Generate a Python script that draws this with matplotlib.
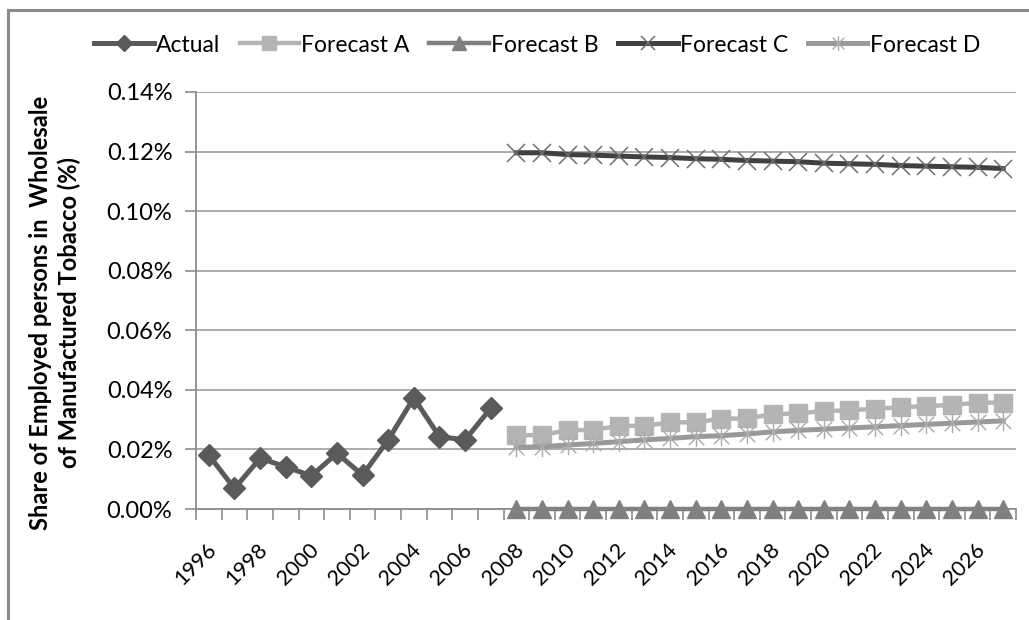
import matplotlib
matplotlib.use("Agg")
import matplotlib.pyplot as plt
from matplotlib.path import Path
from matplotlib.patches import Rectangle
from matplotlib.ticker import FixedLocator, FuncFormatter
import matplotlib.transforms as mtransforms

plt.rcParams['font.family'] = ['Lato', 'DejaVu Sans']

# ---- data (share of employed persons, in %) ----
actual_years = list(range(1996, 2008))
actual = [0.0181, 0.0069, 0.0170, 0.0142, 0.0111, 0.0187,
          0.0114, 0.0232, 0.0373, 0.0243, 0.0232, 0.0338]

forecast_years = list(range(2008, 2028))
forecast_a = [0.0248, 0.0248, 0.0265, 0.0265, 0.0279, 0.0279, 0.0291, 0.0291,
              0.0303, 0.0304, 0.0318, 0.0321, 0.0329, 0.0331, 0.0337, 0.0341,
              0.0346, 0.0349, 0.0357, 0.0357]
forecast_b = [0.0] * 20
forecast_c = [0.1196, 0.1196, 0.1190, 0.1188, 0.1185, 0.1182, 0.1180, 0.1176,
              0.1174, 0.1170, 0.1168, 0.1166, 0.1161, 0.1159, 0.1157, 0.1153,
              0.1151, 0.1149, 0.1147, 0.1143]
forecast_d = [0.0207, 0.0209, 0.0215, 0.0220, 0.0226, 0.0232, 0.0237, 0.0243,
              0.0246, 0.0252, 0.0259, 0.0264, 0.0268, 0.0272, 0.0276, 0.0280,
              0.0284, 0.0288, 0.0292, 0.0296]

series_names = ["Actual", "Forecast A", "Forecast B", "Forecast C", "Forecast D"]
y_ticks = [0.00, 0.02, 0.04, 0.06, 0.08, 0.10, 0.12, 0.14]
x_label_years = list(range(1996, 2027, 2))
y_title = "Share of Employed persons in  Wholesale\nof Manufactured Tobacco (%)"

# asterisk marker: an x with a vertical stroke through it
star_path = Path(
    [(-1, -1), (1, 1), (-1, 1), (1, -1), (0, -1.25), (0, 1.25)],
    [Path.MOVETO, Path.LINETO, Path.MOVETO, Path.LINETO, Path.MOVETO, Path.LINETO],
)

fig = plt.figure(figsize=(10.29, 6.2), dpi=100)
ax = fig.add_axes([196 / 1029, 1 - 509 / 620, (1016 - 196) / 1029, (509 - 92) / 620])

# outer chart border
fig.patches.append(Rectangle((8 / 1029, -0.2), 1.2, 1.2 - 10 / 620,
                             transform=fig.transFigure, fill=False,
                             edgecolor="#8a8a8a", linewidth=2.2, zorder=0))

l_act, = ax.plot(actual_years, actual, color="#5a5a5a", lw=3.6, marker="D",
                 markersize=11, markeredgecolor="#5a5a5a", zorder=5)
l_a, = ax.plot(forecast_years, forecast_a, color="#b4b4b4", lw=3.2, marker="s",
               markersize=13.5, markeredgecolor="#b4b4b4", zorder=3)
l_d, = ax.plot(forecast_years, forecast_d, color="#999999", lw=3.6, marker=star_path,
               markersize=14, markeredgewidth=1.0, markeredgecolor="#ababab",
               markerfacecolor="none", zorder=4)
l_b, = ax.plot(forecast_years, forecast_b, color="#808080", lw=3.2, marker="^",
               markersize=13, markeredgecolor="#808080", zorder=6, clip_on=False)
l_c, = ax.plot(forecast_years, forecast_c, color="#404040", lw=3.6, marker="x",
               markersize=13, markeredgewidth=1.1, markeredgecolor="#6e6e6e", zorder=5)

ax.set_xlim(1995.5, 2027.5)
ax.set_ylim(0, 0.14)

ax.yaxis.set_major_locator(FixedLocator(y_ticks))
ax.yaxis.set_major_formatter(FuncFormatter(lambda v, p: f"{v:.2f}%"))
ax.grid(axis="y", color="#a6a6a6", linewidth=1.3)
ax.set_axisbelow(True)

ax.xaxis.set_major_locator(FixedLocator(x_label_years))
ax.xaxis.set_minor_locator(FixedLocator([y + 0.5 for y in range(1995, 2028)]))
ax.tick_params(axis="x", which="major", length=0, labelsize=15.5, pad=4)
ax.tick_params(axis="x", which="minor", length=8, color="#8c8c8c", width=1.2)
ax.tick_params(axis="y", length=8, color="#8c8c8c", width=1.2, labelsize=17, pad=9)
offset = mtransforms.ScaledTranslation(-3 / 100, -25 / 100, fig.dpi_scale_trans)
for lbl in ax.get_xticklabels():
    lbl.set_rotation(45)
    lbl.set_ha("right")
    lbl.set_va("top")
    lbl.set_rotation_mode("anchor")
    lbl.set_transform(lbl.get_transform() + offset)

for s in ("top", "right"):
    ax.spines[s].set_visible(False)
for s in ("left", "bottom"):
    ax.spines[s].set_color("#8c8c8c")
    ax.spines[s].set_linewidth(1.3)

fig.text(55 / 1029, 1 - 313 / 620, y_title, rotation=90, ha="center", va="center",
         fontsize=17, fontweight="bold", linespacing=1.3, multialignment="center")

fig.legend([l_act, l_a, l_b, l_c, l_d], series_names, loc="center",
           bbox_to_anchor=(537 / 1029, 1 - 45 / 620), ncol=5, frameon=False,
           fontsize=16.5, handlelength=2.6, handletextpad=0.1, columnspacing=0.85,
           markerscale=0.75)

fig.savefig("out.png", dpi=100)
